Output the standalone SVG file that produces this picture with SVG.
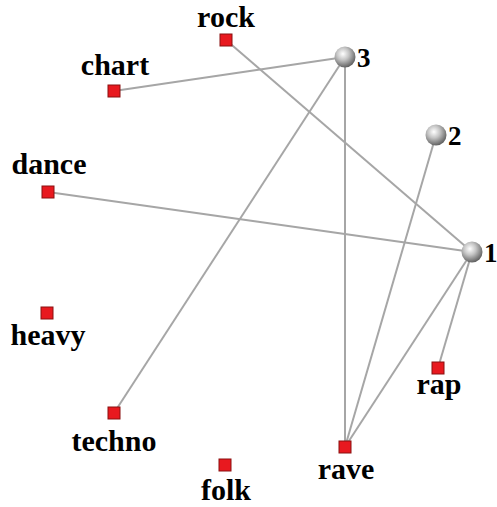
<svg xmlns="http://www.w3.org/2000/svg" width="497" height="507" viewBox="0 0 497 507">
  <style>
    .lbl { font-family: "Liberation Serif", "Times New Roman", serif; font-weight: bold; font-size: 30px; fill: #000; text-anchor: middle; }
    .num { font-family: "Liberation Serif", "Times New Roman", serif; font-weight: bold; font-size: 27px; fill: #000; }
    .sq { fill: #e8191f; stroke: #8a1010; stroke-width: 1; }
    .edge { stroke: #a6a6a6; stroke-width: 2; fill: none; }
    .ball { fill: url(#ballGrad); }
  </style>
  <defs>
    <radialGradient id="ballGrad" cx="0.4" cy="0.35" r="0.65">
      <stop offset="0" stop-color="#ffffff"/>
      <stop offset="0.45" stop-color="#c4c4c4"/>
      <stop offset="1" stop-color="#636363"/>
    </radialGradient>
  </defs>
  <rect width="497" height="507" fill="#fff"/>

  <g id="connectors">
    <line class="edge" x1="345" y1="57" x2="114" y2="91"/>
    <line class="edge" x1="345" y1="57" x2="114" y2="413"/>
    <line class="edge" x1="345" y1="57" x2="345" y2="447"/>
    <line class="edge" x1="436" y1="135" x2="345" y2="447"/>
    <line class="edge" x1="472" y1="252" x2="226" y2="40"/>
    <line class="edge" x1="472" y1="252" x2="48" y2="192"/>
    <line class="edge" x1="472" y1="252" x2="345" y2="447"/>
    <line class="edge" x1="472" y1="252" x2="438" y2="368"/>
  </g>

  <g id="rock"><rect class="sq" x="220" y="34" width="12" height="12"/><text class="lbl" x="226" y="27">rock</text></g>
  <g id="chart"><rect class="sq" x="108" y="85" width="12" height="12"/><text class="lbl" x="115" y="75">chart</text></g>
  <g id="dance"><rect class="sq" x="42" y="186" width="12" height="12"/><text class="lbl" x="49" y="174">dance</text></g>
  <g id="heavy"><rect class="sq" x="41" y="307" width="12" height="12"/><text class="lbl" x="48" y="345">heavy</text></g>
  <g id="techno"><rect class="sq" x="108" y="407" width="12" height="12"/><text class="lbl" x="114" y="451">techno</text></g>
  <g id="folk"><rect class="sq" x="219" y="459" width="12" height="12"/><text class="lbl" x="226" y="500">folk</text></g>
  <g id="rave"><rect class="sq" x="339" y="441" width="12" height="12"/><text class="lbl" x="346" y="479">rave</text></g>
  <g id="rap"><rect class="sq" x="432" y="362" width="12" height="12"/><text class="lbl" x="439" y="394">rap</text></g>

  <g id="n3"><circle class="ball" cx="345" cy="57" r="10.5"/><text class="num" x="357" y="67">3</text></g>
  <g id="n2"><circle class="ball" cx="436" cy="135" r="10.5"/><text class="num" x="448" y="145">2</text></g>
  <g id="n1"><circle class="ball" cx="472" cy="252" r="10.5"/><text class="num" x="484" y="262">1</text></g>
</svg>
